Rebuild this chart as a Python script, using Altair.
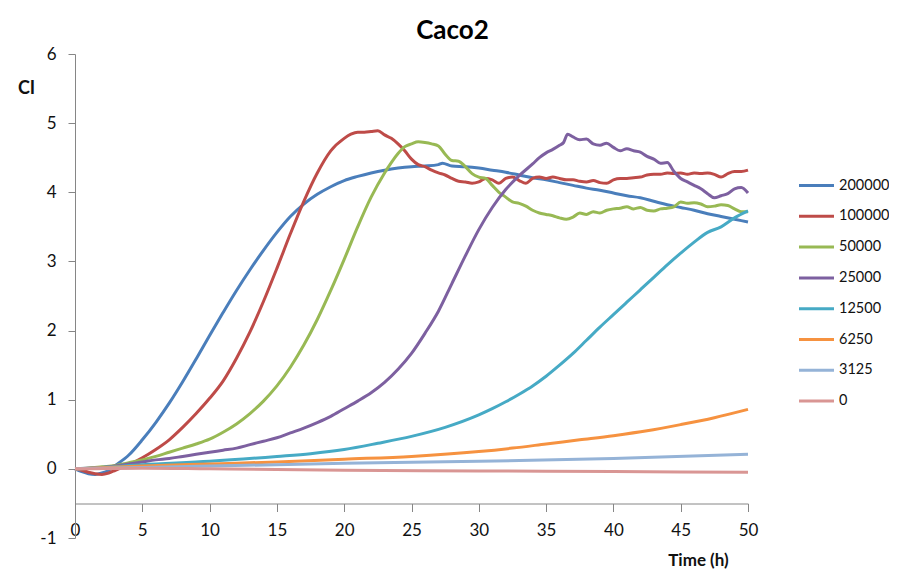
import altair as alt
import pandas as pd

series_names = ["200000", "100000", "50000", "25000", "12500", "6250", "3125", "0"]
series_colors = ["#4A7EBB", "#BE4B48", "#98B954", "#7D60A0", "#46AAC5", "#F69240", "#95B3D7", "#D99694"]

t_200000 = [0, 0.5, 1, 1.5, 2, 2.5, 3, 4, 5, 6, 7, 8, 9, 10, 11, 12, 13, 14, 15, 16, 17, 18, 19, 20,
            21, 22, 23, 24, 25, 26, 27, 27.3, 28, 29, 30, 31, 32, 33, 34, 35, 36, 37, 38, 39, 40,
            41, 42, 43, 44, 45, 46, 47, 48, 49, 50]
v_200000 = [0, -0.04, -0.07, -0.08, -0.06, -0.02, 0.05, 0.2, 0.42, 0.67, 0.95, 1.26, 1.59, 1.93,
            2.26, 2.58, 2.88, 3.16, 3.42, 3.65, 3.83, 3.97, 4.08, 4.17, 4.23, 4.28, 4.32, 4.35, 4.37,
            4.38, 4.4, 4.42, 4.38, 4.37, 4.35, 4.32, 4.29, 4.25, 4.21, 4.18, 4.14, 4.1, 4.06, 4.03,
            3.99, 3.95, 3.92, 3.87, 3.82, 3.78, 3.74, 3.69, 3.65, 3.61, 3.57]

t_100000 = [0, 0.5, 1, 1.5, 2, 2.5, 3, 3.5, 4, 5, 6, 7, 8, 9, 10, 11, 12, 13, 14, 15, 16, 17, 18,
            19, 20, 20.5, 21, 21.5, 22, 22.5, 23, 23.5, 24, 24.5, 25, 25.5, 26, 26.5, 27, 27.5, 28,
            28.5, 29, 29.5, 30, 30.5, 31, 31.5, 32, 32.5, 33, 33.5, 34, 34.5, 35, 35.5, 36, 36.5,
            37, 37.5, 38, 38.5, 39, 39.5, 40, 40.5, 41, 41.5, 42, 42.5, 43, 43.5, 44, 44.5, 45,
            45.5, 46, 46.5, 47, 47.5, 48, 48.5, 49, 49.5, 50]
v_100000 = [0, -0.02, -0.05, -0.07, -0.08, -0.06, -0.02, 0.02, 0.06, 0.16, 0.28, 0.42, 0.6, 0.8,
            1.02, 1.27, 1.6, 1.98, 2.42, 2.9, 3.4, 3.87, 4.28, 4.6, 4.78, 4.84, 4.87, 4.87, 4.88,
            4.89, 4.83, 4.78, 4.7, 4.6, 4.48, 4.4, 4.37, 4.32, 4.28, 4.25, 4.2, 4.16, 4.15, 4.13,
            4.15, 4.2, 4.18, 4.13, 4.2, 4.22, 4.17, 4.13, 4.2, 4.22, 4.2, 4.22, 4.2, 4.18, 4.18,
            4.16, 4.15, 4.17, 4.14, 4.13, 4.18, 4.2, 4.2, 4.21, 4.22, 4.25, 4.26, 4.26, 4.28, 4.27,
            4.28, 4.26, 4.28, 4.27, 4.28, 4.26, 4.22, 4.27, 4.3, 4.3, 4.32]

t_50000 = [0, 1, 2, 3, 4, 5, 6, 7, 8, 9, 10, 11, 12, 13, 14, 15, 16, 17, 18, 19, 20, 21, 22, 23,
           23.5, 24, 24.5, 25, 25.5, 26, 26.5, 27, 27.5, 28, 28.5, 29, 29.5, 30, 30.5, 31, 31.5,
           32, 32.5, 33, 33.5, 34, 34.5, 35, 35.5, 36, 36.5, 37, 37.5, 38, 38.5, 39, 39.5, 40,
           40.5, 41, 41.5, 42, 42.5, 43, 43.5, 44, 44.5, 45, 45.5, 46, 46.5, 47, 47.5, 48, 48.5,
           49, 49.5, 50]
v_50000 = [0, 0.01, 0.03, 0.05, 0.09, 0.13, 0.18, 0.24, 0.3, 0.36, 0.43, 0.53, 0.65, 0.8, 0.98,
           1.2, 1.47, 1.79, 2.16, 2.58, 3.03, 3.5, 3.93, 4.28, 4.43, 4.56, 4.66, 4.7, 4.73, 4.72, 4.7,
           4.67, 4.55, 4.46, 4.45, 4.37, 4.27, 4.22, 4.2, 4.1, 4.0, 3.93, 3.86, 3.84, 3.8, 3.74,
           3.7, 3.68, 3.66, 3.63, 3.61, 3.64, 3.7, 3.68, 3.72, 3.7, 3.74, 3.76, 3.77, 3.79, 3.76,
           3.78, 3.74, 3.73, 3.76, 3.77, 3.79, 3.86, 3.84, 3.85, 3.83, 3.79, 3.8, 3.82, 3.81,
           3.76, 3.72, 3.72]

t_25000 = [0, 2, 3, 4, 5, 6, 7, 8, 9, 10, 11, 12, 13, 14, 15, 16, 17, 18, 19, 20, 21, 22, 23, 24,
           25, 26, 27, 28, 29, 30, 31, 32, 33, 34, 34.5, 35, 35.5, 36, 36.3, 36.6, 37, 37.5, 38,
           38.5, 39, 39.5, 40, 40.5, 41, 41.5, 42, 42.5, 43, 43.5, 44, 44.5, 45, 45.5, 46, 46.5,
           47, 47.5, 48, 48.5, 49, 49.5, 50]
v_25000 = [0, 0.02, 0.04, 0.07, 0.1, 0.13, 0.15, 0.18, 0.21, 0.24, 0.27, 0.3, 0.35, 0.4, 0.45,
           0.52, 0.59, 0.67, 0.76, 0.87, 0.98, 1.1, 1.25, 1.44, 1.67, 1.96, 2.28, 2.68, 3.08, 3.46,
           3.78, 4.04, 4.24, 4.41, 4.5, 4.57, 4.62, 4.68, 4.72, 4.84, 4.8, 4.76, 4.77, 4.7, 4.68,
           4.71, 4.65, 4.6, 4.63, 4.6, 4.58, 4.52, 4.48, 4.42, 4.43, 4.3, 4.2, 4.15, 4.1, 4.05,
           3.98, 3.92, 3.95, 3.98, 4.05, 4.07, 3.99]

t_12500 = [0, 2, 5, 10, 15, 17.5, 20, 22.5, 25, 27.5, 30, 31, 32, 33, 34, 35, 36, 37, 38, 39, 40,
           41, 42, 43, 44, 45, 46, 47, 48, 49, 50]
v_12500 = [0, 0.02, 0.06, 0.11, 0.18, 0.22, 0.28, 0.37, 0.47, 0.6, 0.78, 0.87, 0.97, 1.08, 1.2,
           1.34, 1.5, 1.67, 1.86, 2.05, 2.23, 2.41, 2.59, 2.77, 2.95, 3.12, 3.28, 3.42, 3.5, 3.63,
           3.73]

t_6250 = [0, 5, 10, 15, 20, 25, 30, 32.5, 35, 37.5, 40, 42.5, 45, 47.5, 50]
v_6250 = [0, 0.04, 0.07, 0.1, 0.14, 0.18, 0.25, 0.3, 0.36, 0.42, 0.48, 0.55, 0.64, 0.74, 0.86]

t_3125 = [0, 10, 20, 30, 40, 50]
v_3125 = [0, 0.04, 0.08, 0.11, 0.15, 0.21]

t_0 = [0, 5, 10, 20, 30, 40, 50]
v_0 = [0, 0.01, 0.0, -0.02, -0.03, -0.04, -0.05]

series_t = [t_200000, t_100000, t_50000, t_25000, t_12500, t_6250, t_3125, t_0]
series_v = [v_200000, v_100000, v_50000, v_25000, v_12500, v_6250, v_3125, v_0]

rows = []
for name, ts, vs in zip(series_names, series_t, series_v):
    for t, v in zip(ts, vs):
        rows.append({"series": name, "t": t, "v": v})
df = pd.DataFrame(rows)

FONT = "Lato"
AXIS_GRAY = "#868686"
TEXT = "#111111"

chart = alt.Chart(df).mark_line(strokeWidth=3, interpolate="monotone").encode(
    x=alt.X("t:Q",
            scale=alt.Scale(domain=[0, 50], nice=False, zero=False),
            axis=alt.Axis(values=list(range(0, 51, 5)), title="Time (h)", grid=False,
                          offset=-34.5, domainColor=AXIS_GRAY, tickColor=AXIS_GRAY,
                          tickSize=8, labelPadding=11, labelFlush=False,
                          labelFont=FONT, labelFontSize=17,
                          labelColor=TEXT, titleFont=FONT, titleFontSize=17,
                          titleFontWeight="bold", titleColor=TEXT,
                          titleX=623, titleY=62, titleAlign="center",
                          titleBaseline="alphabetic")),
    y=alt.Y("v:Q",
            scale=alt.Scale(domain=[-1, 6], nice=False, zero=False),
            axis=alt.Axis(values=[-1, 0, 1, 2, 3, 4, 5, 6], title="CI", grid=False,
                          labelExpr="'' + datum.value",
                          domainColor=AXIS_GRAY, tickColor=AXIS_GRAY, tickSize=7,
                          labelPadding=12, labelFont=FONT, labelFontSize=17,
                          labelColor=TEXT, titleFont=FONT, titleFontSize=18,
                          titleFontWeight="bold", titleColor=TEXT, titleAngle=0,
                          titleX=-49, titleY=39, titleAlign="center",
                          titleBaseline="alphabetic")),
    color=alt.Color("series:N",
                    scale=alt.Scale(domain=series_names, range=series_colors),
                    sort=series_names,
                    legend=alt.Legend(orient="none", legendX=731, legendY=121, title=None,
                                      symbolType="M-2,0H2", symbolSize=306,
                                      symbolStrokeWidth=3, labelOffset=12,
                                      labelFont=FONT, labelFontSize=14.5,
                                      labelColor=TEXT, rowPadding=13.8)),
).properties(
    width=673,
    height=484,
    title=alt.TitleParams("Caco2", font=FONT, fontSize=26, fontWeight="bold",
                          color="#000000", anchor="middle", dx=41, dy=21, offset=22),
    padding={"left": 67, "top": 46, "right": 141, "bottom": 37},
    autosize=alt.AutoSizeParams(type="none"),
    background="white",
).configure_view(stroke=None)

chart.save("out.html", embed_options={"renderer": "svg", "actions": False})
